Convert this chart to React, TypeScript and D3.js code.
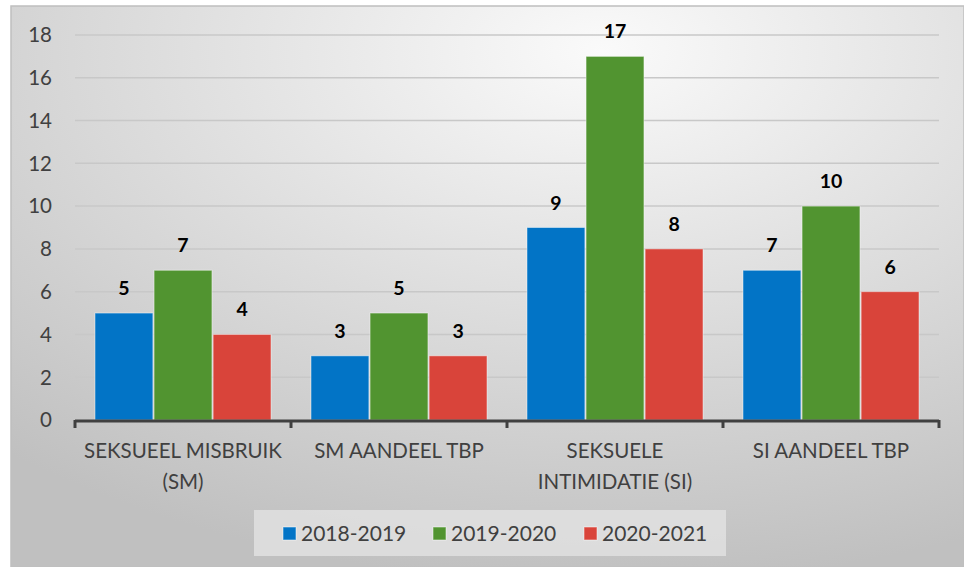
import { useEffect, useRef } from "react";
import * as d3 from "d3";

const categories = [
  ["SEKSUEEL MISBRUIK", "(SM)"],
  ["SM AANDEEL TBP"],
  ["SEKSUELE", "INTIMIDATIE (SI)"],
  ["SI AANDEEL TBP"],
];
const seriesNames = ["2018-2019", "2019-2020", "2020-2021"];
const values2018 = [5, 3, 9, 7];
const values2019 = [7, 5, 17, 10];
const values2020 = [4, 3, 8, 6];
const yTicks = [0, 2, 4, 6, 8, 10, 12, 14, 16, 18];
const colors = ["#0274C6", "#519430", "#D9443A"];

const W = 964;
const H = 567;
const FONT = "Lato, 'Open Sans', sans-serif";

export default function App() {
  const svgRef = useRef<SVGSVGElement | null>(null);

  useEffect(() => {
    if (!svgRef.current) return;
    const svg = d3.select(svgRef.current);
    svg.selectAll("*").remove();

    const series = [values2018, values2019, values2020];
    const margin = { left: 75, right: 25, top: 35, bottom: 147 };
    const plotW = W - margin.left - margin.right;
    const plotH = H - margin.top - margin.bottom;

    // background
    const defs = svg.append("defs");
    const grad = defs
      .append("radialGradient")
      .attr("id", "bg")
      .attr("cx", "62%")
      .attr("cy", "8%")
      .attr("r", "95%");
    grad.append("stop").attr("offset", "0%").attr("stop-color", "#fafafa");
    grad.append("stop").attr("offset", "100%").attr("stop-color", "#c0c0c0");

    svg.append("rect").attr("width", W).attr("height", H).attr("fill", "#fff");
    svg
      .append("rect")
      .attr("x", 11)
      .attr("y", 6)
      .attr("width", W - 11)
      .attr("height", H - 6)
      .attr("fill", "url(#bg)")
      .attr("stroke", "#bfbfbf")
      .attr("stroke-width", 1.5);

    const g = svg
      .append("g")
      .attr("transform", `translate(${margin.left},${margin.top})`);

    const x0 = d3
      .scaleBand<number>()
      .domain(d3.range(categories.length))
      .range([0, plotW])
      .paddingInner(0)
      .paddingOuter(0);
    const x1 = d3
      .scaleBand<number>()
      .domain(d3.range(series.length))
      .range([20, x0.bandwidth() - 20])
      .paddingInner(0.02);
    const y = d3.scaleLinear().domain([0, 18]).range([plotH, 0]);

    // gridlines
    g.selectAll("line.grid")
      .data(yTicks.filter((t) => t > 0))
      .join("line")
      .attr("class", "grid")
      .attr("x1", 0)
      .attr("x2", plotW)
      .attr("y1", (d) => y(d))
      .attr("y2", (d) => y(d))
      .attr("stroke", "#c8c8c8")
      .attr("stroke-width", 1.5);

    // y labels
    g.selectAll("text.ytick")
      .data(yTicks)
      .join("text")
      .attr("class", "ytick")
      .attr("x", -23)
      .attr("y", (d) => y(d))
      .attr("dy", "0.36em")
      .attr("text-anchor", "end")
      .attr("fill", "#404040")
      .attr("font-family", FONT)
      .attr("font-size", 20.5)
      .text((d) => d);

    // bars
    const groups = g
      .selectAll("g.cat")
      .data(categories.map((_, i) => i))
      .join("g")
      .attr("class", "cat")
      .attr("transform", (i) => `translate(${x0(i)},0)`);

    groups
      .selectAll("rect")
      .data((i) => series.map((s, si) => ({ si, v: s[i] })))
      .join("rect")
      .attr("x", (d) => x1(d.si)!)
      .attr("y", (d) => y(d.v))
      .attr("width", x1.bandwidth())
      .attr("height", (d) => plotH - y(d.v))
      .attr("fill", (d) => colors[d.si])
      .attr("stroke", "rgba(255,255,255,0.45)")
      .attr("stroke-width", 1);

    groups
      .selectAll("text.val")
      .data((i) => series.map((s, si) => ({ si, v: s[i] })))
      .join("text")
      .attr("class", "val")
      .attr("x", (d) => x1(d.si)! + x1.bandwidth() / 2)
      .attr("y", (d) => y(d.v) - 18)
      .attr("text-anchor", "middle")
      .attr("font-family", FONT)
      .attr("font-weight", "bold")
      .attr("font-size", 19.5)
      .attr("fill", "#000")
      .text((d) => d.v);

    // x axis
    g.append("line")
      .attr("x1", 0)
      .attr("x2", plotW)
      .attr("y1", plotH + 1)
      .attr("y2", plotH + 1)
      .attr("stroke", "#404040")
      .attr("stroke-width", 3);
    g.selectAll("line.xtick")
      .data(d3.range(categories.length + 1))
      .join("line")
      .attr("class", "xtick")
      .attr("x1", (i) => i * x0.bandwidth())
      .attr("x2", (i) => i * x0.bandwidth())
      .attr("y1", plotH)
      .attr("y2", plotH + 8)
      .attr("stroke", "#404040")
      .attr("stroke-width", 3);

    const catText = g
      .selectAll("text.cat")
      .data(categories)
      .join("text")
      .attr("class", "cat")
      .attr("text-anchor", "middle")
      .attr("fill", "#404040")
      .attr("font-family", FONT)
      .attr("font-size", 20.5);
    catText
      .selectAll("tspan")
      .data((d, i) => d.map((line) => ({ line, i })))
      .join("tspan")
      .attr("x", (d) => x0(d.i)! + x0.bandwidth() / 2)
      .attr("y", (d, j) => plotH + 38 + j * 31)
      .text((d) => d.line);

    // legend
    const legend = svg.append("g");
    legend
      .append("rect")
      .attr("x", 254)
      .attr("y", 510)
      .attr("width", 472)
      .attr("height", 46)
      .attr("fill", "#e2e2e2")
      .attr("opacity", 0.8);
    const legendX = [283, 433, 584];
    seriesNames.forEach((name, i) => {
      legend
        .append("rect")
        .attr("x", legendX[i])
        .attr("y", 527)
        .attr("width", 13)
        .attr("height", 13)
        .attr("fill", colors[i])
        .attr("stroke", "rgba(255,255,255,0.5)");
      legend
        .append("text")
        .attr("x", legendX[i] + 18)
        .attr("y", 541)
        .attr("fill", "#404040")
        .attr("font-family", FONT)
        .attr("font-size", 21)
        .text(name);
    });
  }, []);

  return (
    <svg
      ref={svgRef}
      width={W}
      height={H}
      style={{ position: "absolute", left: 0, top: 0, display: "block" }}
    ></svg>
  );
}
